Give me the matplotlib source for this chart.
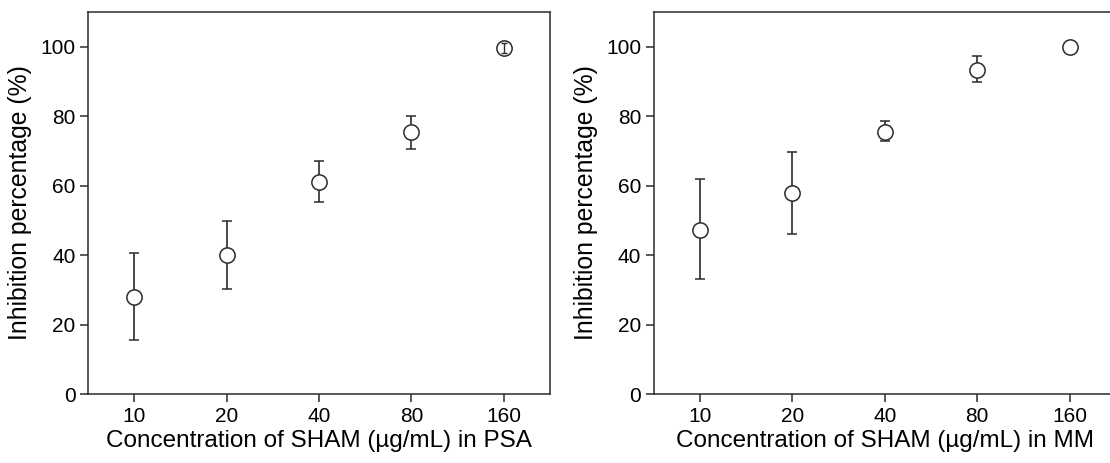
import matplotlib
matplotlib.use("Agg")
import matplotlib.pyplot as plt

plt.rcParams['font.family'] = ['Liberation Sans', 'DejaVu Sans']

categories = ["10", "20", "40", "80", "160"]
psa_mean = [28.0, 40.0, 61.0, 75.5, 99.7]
psa_lower = [15.5, 30.2, 55.2, 70.7, 98.3]
psa_upper = [40.5, 49.8, 67.0, 80.0, 101.0]
mm_mean = [47.2, 58.0, 75.4, 93.4, 100.0]
mm_lower = [33.0, 46.0, 72.8, 89.8, 100.0]
mm_upper = [61.8, 69.8, 78.5, 97.2, 100.0]
yticks = [0, 20, 40, 60, 80, 100]
xlabels = ["Concentration of SHAM (\u00b5g/mL) in PSA",
           "Concentration of SHAM (\u00b5g/mL) in MM"]
ylabel = "Inhibition percentage (%)"

fig = plt.figure(figsize=(11.10, 4.63), dpi=100)
axes = [fig.add_axes([0.0793, 0.149, 0.4162, 0.825]),
        fig.add_axes([0.589, 0.149, 0.4162, 0.825])]

col = "#2b2b2b"
msize = 11.0
for ax, mean, lo, up, xl in zip(axes, [psa_mean, mm_mean], [psa_lower, mm_lower],
                                [psa_upper, mm_upper], xlabels):
    x = list(range(len(categories)))
    yerr = [[m - l for m, l in zip(mean, lo)], [u - m for m, u in zip(mean, up)]]
    ax.errorbar(x, mean, yerr=yerr, fmt='o', color=col, ecolor=col,
                markerfacecolor='white', markeredgecolor=col, markersize=msize,
                markeredgewidth=1.1, elinewidth=1.2, capsize=3.3, capthick=1.2,
                zorder=3)
    # error bars that fit inside the marker are visible on top of it
    for i, (m, l, u) in enumerate(zip(mean, lo, up)):
        if 0 < (u - l) < 4:
            ax.errorbar([x[i]], [m], yerr=[[m - l], [u - m]], fmt='none',
                        ecolor=col, elinewidth=1.0, capsize=2.5, capthick=1.0,
                        zorder=5)
    ax.set_xlim(-0.5, 4.5)
    ax.set_ylim(0, 110)
    ax.set_xticks(x)
    ax.set_xticklabels(categories)
    ax.set_yticks(yticks)
    ax.tick_params(direction='out', length=6, width=1.1, color=col, labelsize=15,
                   pad=3)
    for s in ax.spines.values():
        s.set_color(col)
        s.set_linewidth(1.1)
    ax.set_xlabel(xl, fontsize=17.5, labelpad=3)
    ax.set_ylabel(ylabel, fontsize=17.8, labelpad=6)

fig.savefig("out.png", dpi=100)
